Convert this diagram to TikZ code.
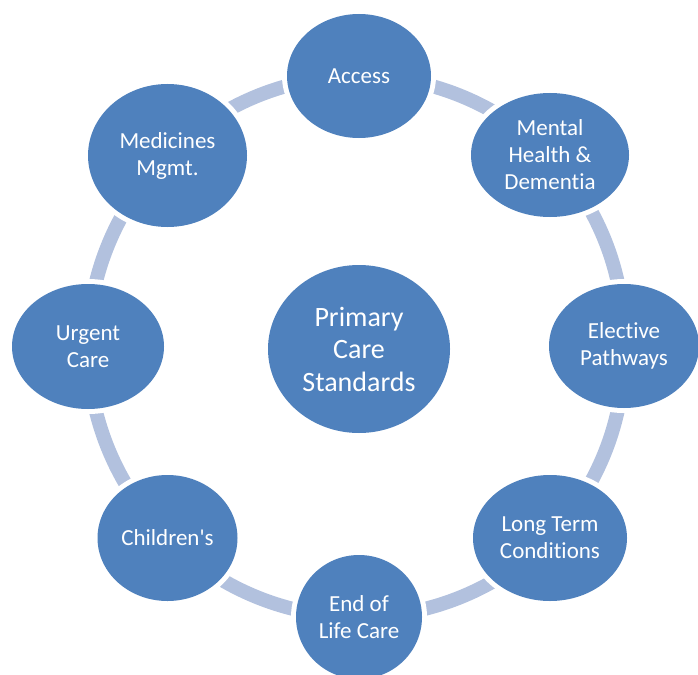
\documentclass[tikz,border=0pt]{standalone}
\usepackage{fontspec}
\setmainfont{Carlito}[Ligatures={TeX,NoCommon}]
\usetikzlibrary{shapes.geometric}
\definecolor{nodeblue}{RGB}{79,129,189}
\definecolor{bandblue}{RGB}{178,193,222}
\pgfdeclarelayer{background}
\pgfsetlayers{background,main}
\tikzset{
  cyc/.style={ellipse, fill=nodeblue, text=white, align=center, inner sep=0pt,
    preaction={draw=white, line width=10pt},
    font=\fontsize{23}{27}\selectfont},
  band/.style={draw=bandblue, line width=14pt, bend left=22.5, looseness=0.885}
}
\begin{document}
\begin{tikzpicture}[x=1pt,y=-1pt]
\useasboundingbox (0,0) rectangle (698,674);
\node[cyc, minimum width=144pt, minimum height=124pt] (acc) at (359,76) {Access};
\node[cyc, minimum width=158pt, minimum height=124pt] (men) at (550,155) {Mental\\Health \&\\Dementia};
\node[cyc, minimum width=150pt, minimum height=124pt] (ele) at (624,346) {Elective\\Pathways};
\node[cyc, minimum width=154pt, minimum height=126pt] (lon) at (550,538) {Long Term\\Conditions};
\node[cyc, minimum width=126pt, minimum height=124pt] (end) at (359,617) {End of\\Life Care};
\node[cyc, minimum width=140pt, minimum height=126pt] (chi) at (167.5,538) {Children\textquotesingle s};
\node[cyc, minimum width=152pt, minimum height=125pt] (urg) at (88,346.5) {Urgent\\Care};
\node[cyc, minimum width=159pt, minimum height=143pt] (med) at (167.5,155.5) {Medicines\\Mgmt.};
\node[cyc, minimum width=182pt, minimum height=168pt, font=\fontsize{28}{32.5}\selectfont] (ctr) at (359,349) {Primary\\Care\\Standards};
\begin{pgfonlayer}{background}
\draw[band] (acc.center) to (men.center);
\draw[band] (men.center) to (ele.center);
\draw[band] (ele.center) to (lon.center);
\draw[band] (lon.center) to (end.center);
\draw[band] (end.center) to (chi.center);
\draw[band] (chi.center) to (urg.center);
\draw[band] (urg.center) to (med.center);
\draw[band] (med.center) to (acc.center);
\end{pgfonlayer}
\end{tikzpicture}
\end{document}
